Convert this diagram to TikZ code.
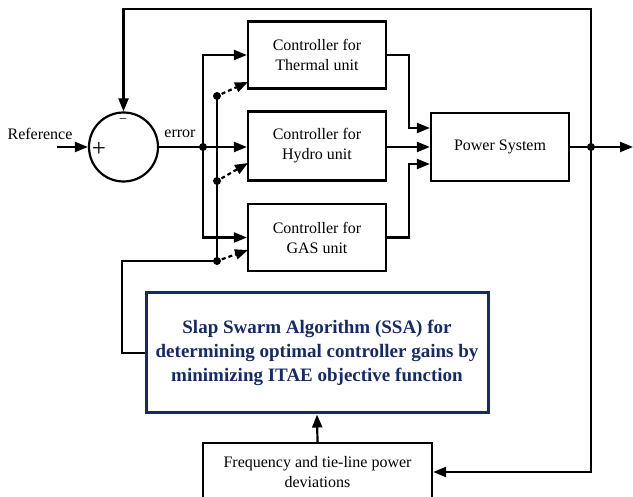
\documentclass[tikz,border=0pt]{standalone}
\usepackage{fontspec}
\setmainfont{Liberation Serif}
\usetikzlibrary{arrows.meta}
\definecolor{ssanavy}{RGB}{22,42,102}
\begin{document}
\begin{tikzpicture}[x=1pt,y=-1pt,line width=2.2pt,
  arr/.style={-{Triangle[length=13pt,width=10pt]}},
  lbl/.style={font=\fontsize{16}{20}\selectfont,inner sep=0pt},
  block/.style={draw,line width=2.2pt,minimum width=138pt,minimum height=67pt,
    align=center,font=\fontsize{16}{20}\selectfont,inner sep=0pt},
  jdot/.style={circle,fill,inner sep=0pt,minimum size=8pt}]
\useasboundingbox (0,0) rectangle (633,497);

% summing junction
\node[draw,circle,minimum size=69pt,inner sep=0pt] (sum) at (123.5,147) {};
\node[inner sep=0pt,font=\fontsize{14}{14}\selectfont] (minus) at (123,121) {−};
\node[inner sep=0pt,font=\fontsize{25}{25}\selectfont] (plus) at (99,149) {+};
\node[lbl] (ref) at (40,134) {Reference};
\node[lbl] (err) at (180,134) {error};
\coordinate (refin) at (57,147);

% controllers and plant
\node[block] (thermal) at (317,55) {Controller for\\Thermal unit};
\node[block,minimum height=69pt] (hydro) at (317,146) {Controller for\\Hydro unit};
\node[block] (gas) at (317,237.5) {Controller for\\GAS unit};
\node[block,minimum height=68pt] (power) at (500,147) {Power System};

% optimiser and measurement blocks
\node[draw=ssanavy,line width=3pt,minimum width=342pt,minimum height=120pt,
  align=center,inner sep=0pt,text=ssanavy,
  font=\bfseries\fontsize{19}{24}\selectfont] (ssa) at (317,353)
  {Slap Swarm Algorithm (SSA) for\\determining optimal controller gains by\\minimizing ITAE objective function};
\node[draw,line width=2.2pt,minimum width=229pt,minimum height=58pt,
  align=center,inner sep=0pt,font=\fontsize{16}{20}\selectfont] (freq) at (317.5,472)
  {Frequency and tie-line power\\deviations};

% junction points
\node[jdot] (e1) at (203,147) {};
\node[jdot] (d1) at (217,96) {};
\node[jdot] (d2) at (217,181) {};
\node[jdot] (d3) at (217,261) {};
\node[jdot] (o1) at (591,147) {};
\coordinate (outend) at (633,147);
\coordinate (tl) at (123.5,9);
\coordinate (fb) at (122,261);
\coordinate (t1) at (248,82);
\coordinate (t2) at (248,163);
\coordinate (t3) at (248,250);

% signal paths
\draw[arr] (refin) -- (sum.west);
\draw[arr] (sum.east) -- (sum.east -| hydro.west);
\draw[arr] (e1.center) |- (thermal.west);
\draw[arr] (e1.center) |- (gas.west);
\draw[arr] (thermal.east) -- ++(22,0) |- ([yshift=19pt]power.west);
\draw[arr] (hydro.east |- power.west) -- (power.west);
\draw[arr] (gas.east) -- ++(22,0) |- ([yshift=-17pt]power.west);
\draw[arr] (power.east) -- (outend);

% feedback paths
\draw[arr] (o1.center) |- (tl) -- (sum.north);
\draw[arr] (o1.center) |- (freq.east);
\draw[arr] (freq.north) -- (ssa.south);

% gain tuning paths
\draw (d1.center) -- (d3.center) -- (fb) |- (ssa.west);
\draw[arr,dash pattern=on 4pt off 3pt] (d1) -- (t1);
\draw[arr,dash pattern=on 4pt off 3pt] (d2) -- (t2);
\draw[arr,dash pattern=on 4pt off 3pt] (d3) -- (t3);
\end{tikzpicture}
\end{document}
